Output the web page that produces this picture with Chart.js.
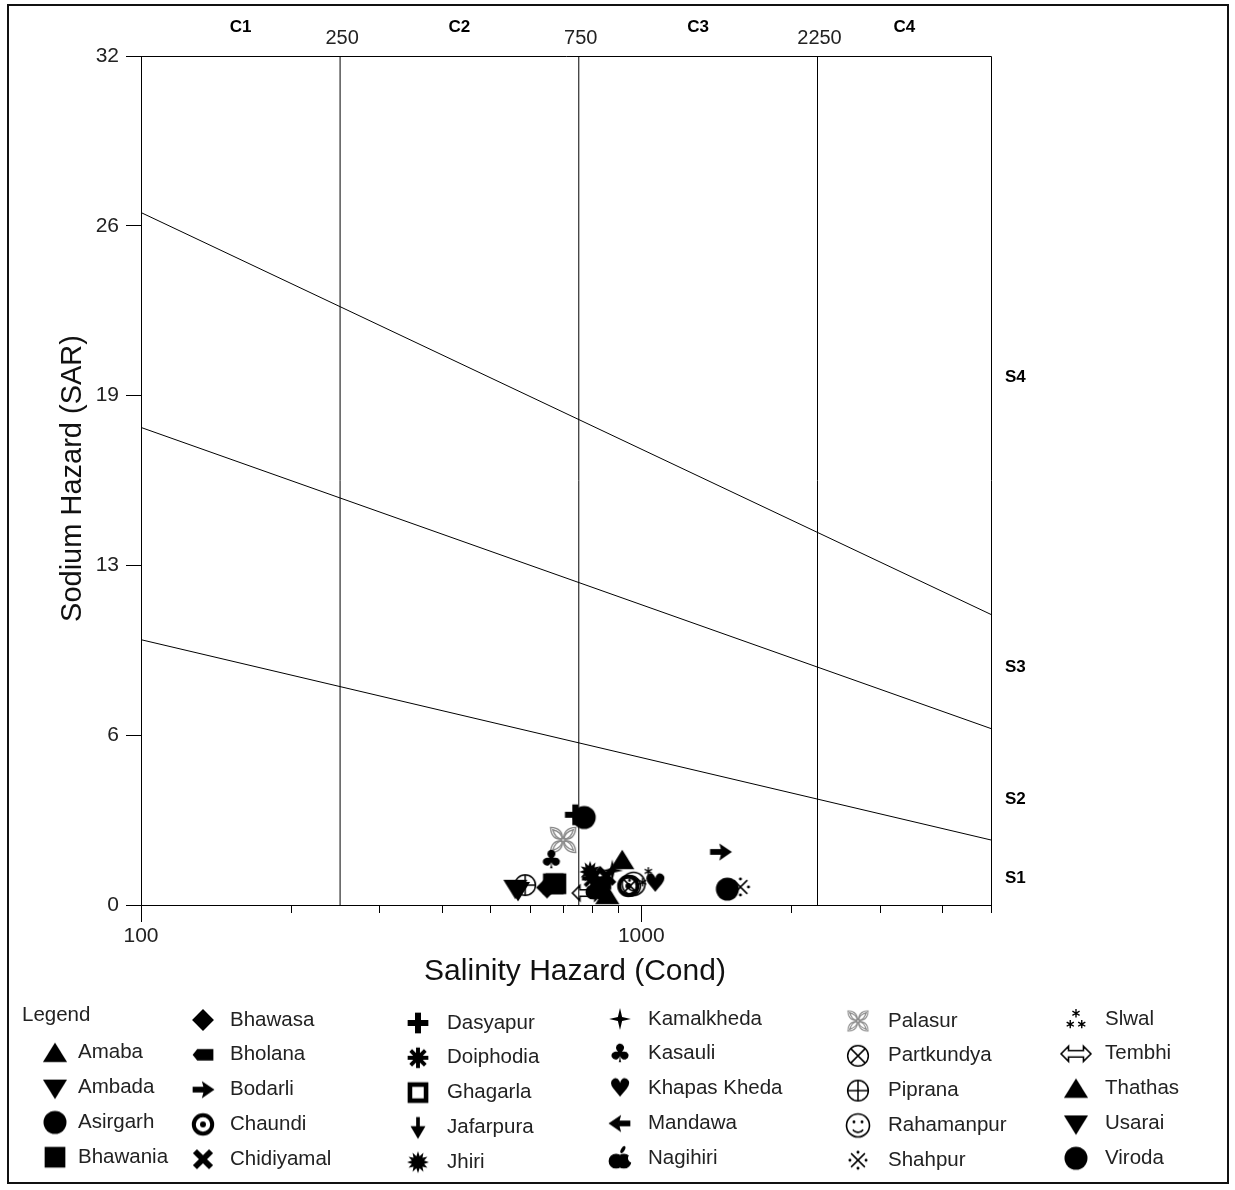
<!DOCTYPE html>
<html>
<head>
<meta charset="utf-8">
<script src="https://cdn.jsdelivr.net/npm/chart.js@4.4.1/dist/chart.umd.min.js"></script>
<style>
  html, body { margin: 0; padding: 0; background: #fff; }
  #wrap { width: 1235px; height: 1190px; position: relative; }
</style>
</head>
<body>
<div id="wrap"><canvas id="ussl"></canvas></div>
<script>
// ---- USSL salinity / sodium hazard diagram ----

const sites = ["Amaba", "Ambada", "Asirgarh", "Bhawania", "Bhawasa", "Bholana", "Bodarli", "Chaundi",
  "Chidiyamal", "Dasyapur", "Doiphodia", "Ghagarla", "Jafarpura", "Jhiri", "Kamalkheda", "Kasauli",
  "Khapas Kheda", "Mandawa", "Nagihiri", "Palasur", "Partkundya", "Piprana", "Rahamanpur", "Shahpur",
  "Slwal", "Tembhi", "Thathas", "Usarai", "Viroda"];

// conductivity (x) and SAR (y)
const ecValues = [916, 560, 769, 667, 648, 830, 1439, 942,
  851, 738, 798, 675, 830, 790, 875, 661,
  1066, 820, 815, 698, 950, 586, 965, 1578,
  1033, 780, 855, 567, 1486];
const sarValues = [1.7, 0.65, 3.3, 0.8, 0.66, 0.8, 2.0, 0.72,
  1.1, 3.4, 1.0, 0.8, 0.65, 1.25, 1.3, 1.7,
  0.8, 0.95, 0.6, 2.45, 0.72, 0.75, 0.8, 0.68,
  1.05, 0.45, 0.38, 0.57, 0.6];
const siteMarks = ["triUp", "triDown", "circle", "square", "diamond", "tag", "arrowRight", "ring",
  "xHeavy", "plusHeavy", "asterHeavy", "squareOpen", "arrowDown", "burst", "star4", "club",
  "heart", "arrowLeft", "apple", "petals", "oTimes", "oPlus", "smiley", "refMark",
  "asterism", "dblArrow", "triUp", "triDown", "circle"];

const ecTicks = [100, 200, 300, 400, 500, 600, 700, 800, 900, 1000, 2000, 3000, 4000, 5000];
const ecTickLabels = ["100", "", "", "", "", "", "", "", "", "1000", "", "", "", ""];
const sarTicks = [0, 6.4, 12.8, 19.2, 25.6, 32];
const sarTickLabels = ["0", "6", "13", "19", "26", "32"];

const classBounds = [250, 750, 2250];
const classBoundLabels = ["250", "750", "2250"];
const classNames = ["C1", "C2", "C3", "C4"];

const ecEnds = [100, 5000];
const sodiumLineLeft = [10, 18, 26.1];
const sodiumLineRight = [2.45, 6.65, 10.95];
const sodiumNames = ["S1", "S2", "S3", "S4"];
const sodiumLabelAt = [1.0, 4.0, 8.95, 19.9];

const FONT = '"Liberation Sans", Arial, sans-serif';

// ---- marker glyphs ----
function starPath(g, n, ro, ri) {
  g.beginPath();
  for (let i = 0; i < n * 2; i++) {
    const r = i % 2 ? ri : ro;
    const a = -Math.PI / 2 + i * Math.PI / n;
    g.lineTo(Math.cos(a) * r, Math.sin(a) * r);
  }
  g.closePath();
}

function spokes(g, cx, cy, n, r) {
  g.beginPath();
  for (let i = 0; i < n; i++) {
    const a = -Math.PI / 2 + i * Math.PI * 2 / n;
    g.moveTo(cx, cy);
    g.lineTo(cx + Math.cos(a) * r, cy + Math.sin(a) * r);
  }
  g.stroke();
}

function poly(g, pts) {
  g.beginPath();
  pts.forEach(p => g.lineTo(p[0], p[1]));
  g.closePath();
}

function petal(g, rot, len, w) {
  // pointed leaf from the centre outwards, double outline
  g.save();
  g.rotate(rot);
  [[len, w], [len * 0.8, w * 0.55]].forEach(([l, h]) => {
    g.beginPath();
    g.moveTo(1, 0);
    g.quadraticCurveTo(l * 0.5, -h * 1.6, l + 1, 0);
    g.quadraticCurveTo(l * 0.5, h * 1.6, 1, 0);
    g.stroke();
  });
  g.restore();
}

function makeIcon(kind) {
  const k = 1.15;
  const size = (kind === "petals" || kind === "dblArrow") ? 40 : 28;
  const c = document.createElement("canvas");
  c.width = c.height = size;
  const g = c.getContext("2d");
  g.translate(size / 2, size / 2);
  g.scale(k, k);
  g.fillStyle = "#000";
  g.strokeStyle = "#000";
  switch (kind) {
    case "triUp": poly(g, [[0, -9], [10.5, 8], [-10.5, 8]]); g.fill(); break;
    case "triDown": poly(g, [[0, 10], [10.5, -7], [-10.5, -7]]); g.fill(); break;
    case "circle": g.beginPath(); g.arc(0, 0, 10, 0, Math.PI * 2); g.fill(); break;
    case "square": g.fillRect(-9, -9, 18, 18); break;
    case "diamond": poly(g, [[0, -9.5], [9.5, 0], [0, 9.5], [-9.5, 0]]); g.fill(); break;
    case "tag": poly(g, [[-9, 0], [-5, -5], [9, -5], [9, 5], [-5, 5]]); g.fill(); break;
    case "arrowRight":
      g.fillRect(-9, -2.5, 10, 5);
      poly(g, [[-1, -7.5], [10, 0], [-1, 7.5], [1, 0]]); g.fill(); break;
    case "arrowLeft":
      g.fillRect(-1, -2.5, 10, 5);
      poly(g, [[1, -7.5], [-10, 0], [1, 7.5], [-1, 0]]); g.fill(); break;
    case "arrowDown":
      g.fillRect(-1.6, -9, 3.2, 10);
      poly(g, [[-6.5, -1], [6.5, -1], [0, 10]]); g.fill(); break;
    case "ring":
      g.lineWidth = 3.5; g.beginPath(); g.arc(0, 0, 8, 0, Math.PI * 2); g.stroke();
      g.beginPath(); g.arc(0, 0, 2.6, 0, Math.PI * 2); g.fill(); break;
    case "xHeavy":
      g.lineWidth = 5; g.beginPath();
      g.moveTo(-7, -7); g.lineTo(7, 7); g.moveTo(7, -7); g.lineTo(-7, 7); g.stroke(); break;
    case "plusHeavy": g.fillRect(-9, -2.6, 18, 5.2); g.fillRect(-2.6, -9, 5.2, 18); break;
    case "asterHeavy": g.lineWidth = 3.4; spokes(g, 0, 0, 8, 9); break;
    case "squareOpen": g.lineWidth = 4; g.strokeRect(-7, -7, 14, 14); break;
    case "burst": starPath(g, 12, 9.5, 5.5); g.fill(); break;
    case "star4": starPath(g, 4, 9.5, 2.6); g.fill(); break;
    case "club": case "heart":
      g.font = "22px 'DejaVu Sans'"; g.textAlign = "center"; g.textBaseline = "middle";
      g.fillText(kind === "club" ? "\u2663" : "\u2665", 0, 1); break;
    case "apple":
      g.beginPath(); g.arc(-3.4, 2.5, 6.5, 0, Math.PI * 2); g.arc(3.4, 2.5, 6.5, 0, Math.PI * 2); g.fill();
      g.beginPath(); g.ellipse(2.5, -7.5, 3.4, 1.6, -Math.PI / 3, 0, Math.PI * 2); g.fill();
      g.globalCompositeOperation = "destination-out";
      g.beginPath(); g.arc(10.5, 0, 3.6, 0, Math.PI * 2); g.fill();
      g.globalCompositeOperation = "source-over"; break;
    case "petals":
      g.strokeStyle = "#8a8a8a"; g.lineWidth = 1.2;
      [1, 3, 5, 7].forEach(q => petal(g, q * Math.PI / 4, 14.5, 4.6));
      break;
    case "oTimes": case "oPlus":
      g.lineWidth = 1.3; g.beginPath(); g.arc(0, 0, 9, 0, Math.PI * 2); g.stroke();
      g.beginPath();
      if (kind === "oTimes") { const d = 6.4; g.moveTo(-d, -d); g.lineTo(d, d); g.moveTo(d, -d); g.lineTo(-d, d); }
      else { g.moveTo(-9, 0); g.lineTo(9, 0); g.moveTo(0, -9); g.lineTo(0, 9); }
      g.stroke(); break;
    case "smiley":
      g.lineWidth = 1.4; g.beginPath(); g.arc(0, 0, 10, 0, Math.PI * 2); g.stroke();
      g.beginPath(); g.arc(-3.5, -3, 1.3, 0, Math.PI * 2); g.arc(3.5, -3, 1.3, 0, Math.PI * 2); g.fill();
      g.beginPath(); g.arc(0, 0.5, 5.5, 0.2 * Math.PI, 0.8 * Math.PI); g.stroke(); break;
    case "refMark":
      g.lineWidth = 1.3; g.beginPath();
      g.moveTo(-6, -6); g.lineTo(6, 6); g.moveTo(6, -6); g.lineTo(-6, 6); g.stroke();
      [[0, -7], [7, 0], [0, 7], [-7, 0]].forEach(p => { g.beginPath(); g.arc(p[0], p[1], 1.3, 0, Math.PI * 2); g.fill(); });
      break;
    case "asterism":
      g.lineWidth = 1.2;
      spokes(g, 0, -5, 6, 3.6); spokes(g, -5, 4.5, 6, 3.6); spokes(g, 5, 4.5, 6, 3.6); break;
    case "dblArrow":
      g.lineWidth = 1.4;
      poly(g, [[-13, 0], [-6.5, -6.5], [-6.5, -2.8], [6.5, -2.8], [6.5, -6.5], [13, 0],
        [6.5, 6.5], [6.5, 2.8], [-6.5, 2.8], [-6.5, 6.5]]);
      g.stroke(); break;
  }
  return c;
}

// ---- datasets ----
const siteSets = sites.map((name, i) => ({
  label: name,
  site: true,
  data: [{ x: ecValues[i], y: sarValues[i] }],
  pointStyle: makeIcon(siteMarks[i]),
  pointRadius: 11,
}));

const lineStyle = { showLine: true, pointRadius: 0, borderColor: "#000", borderWidth: 1, fill: false };

const boundSets = classBounds.map(v => ({
  ...lineStyle, label: "C" + v,
  data: [{ x: v, y: sarTicks[0] }, { x: v, y: sarTicks[sarTicks.length - 1] }],
}));

const sodiumSets = sodiumLineLeft.map((v, i) => ({
  ...lineStyle, label: "S" + i,
  data: [{ x: ecEnds[0], y: v }, { x: ecEnds[1], y: sodiumLineRight[i] }],
}));

// ---- extra text, frame and legend ----
const decorations = {
  id: "decorations",
  afterDraw(chart) {
    const { ctx, chartArea: a, scales: { x, y } } = chart;
    ctx.save();
    ctx.strokeStyle = "#000";
    ctx.lineWidth = 1;
    ctx.beginPath();
    ctx.moveTo(a.left, a.top + 0.5);
    ctx.lineTo(a.right + 0.5, a.top + 0.5);
    ctx.lineTo(a.right + 0.5, a.bottom);
    ctx.stroke();

    // longer ticks on the decades
    ctx.beginPath();
    ecTicks.forEach((v, i) => {
      if (!ecTickLabels[i]) return;
      const px = Math.round(x.getPixelForValue(v)) + 0.5;
      ctx.moveTo(px, a.bottom);
      ctx.lineTo(px, a.bottom + 17);
    });
    ctx.stroke();

    ctx.fillStyle = "#222";
    ctx.textAlign = "center";
    ctx.textBaseline = "middle";
    ctx.font = "20px " + FONT;
    classBounds.forEach((v, i) => ctx.fillText(classBoundLabels[i], x.getPixelForValue(v) + 2, 38));

    const edges = [x.min, ...classBounds, x.max];
    ctx.fillStyle = "#000";
    ctx.font = "bold 17px " + FONT;
    classNames.forEach((n, i) => ctx.fillText(n, x.getPixelForValue(Math.sqrt(edges[i] * edges[i + 1])), 27));

    ctx.textAlign = "left";
    sodiumNames.forEach((n, i) => ctx.fillText(n, a.right + 14, y.getPixelForValue(sodiumLabelAt[i])));

    // axis titles
    ctx.fillStyle = "#111";
    ctx.font = "30px " + FONT;
    ctx.textAlign = "center";
    ctx.fillText("Salinity Hazard (Cond)", 575, 972);
    ctx.font = "29px " + FONT;
    ctx.save();
    ctx.translate(73, (a.top + a.bottom) / 2 - 2);
    ctx.rotate(-Math.PI / 2);
    ctx.fillText("Sodium Hazard (SAR)", 0, 0);
    ctx.restore();

    // legend, five rows per column, header in the first slot
    const iconX = [55, 203, 418, 620, 858, 1076];
    const textX = [78, 230, 447, 648, 888, 1105];
    const rowTop = [1018, 1020, 1023, 1019, 1021, 1019];
    ctx.font = "20.5px " + FONT;
    ctx.fillStyle = "#222";
    ctx.textAlign = "left";
    ctx.fillText("Legend", 22, 1015);
    chart.data.datasets.filter(d => d.site).forEach((d, i) => {
      const slot = i + 1, col = Math.floor(slot / 5), row = slot % 5;
      const cy = rowTop[col] + row * 34.8;
      const img = d.pointStyle;
      const s = d.label === "Palasur" ? 0.8 : 1;
      ctx.drawImage(img, iconX[col] - img.width * s / 2, cy - img.height * s / 2, img.width * s, img.height * s);
      ctx.fillText(d.label, textX[col], cy);
    });

    // outer frame
    ctx.lineWidth = 2;
    ctx.strokeStyle = "#111";
    ctx.strokeRect(8, 5, 1220, 1178);
    ctx.restore();
  }
};

new Chart(document.getElementById("ussl"), {
  type: "scatter",
  data: { datasets: [...siteSets, ...boundSets, ...sodiumSets] },
  plugins: [decorations],
  options: {
    responsive: true,
    maintainAspectRatio: false,
    animation: false,
    events: [],
    layout: { padding: { left: 0, top: 56, right: 244, bottom: 0 } },
    plugins: { legend: { display: false }, tooltip: { enabled: false } },
    scales: {
      x: {
        type: "logarithmic",
        min: ecEnds[0],
        max: ecEnds[1],
        afterBuildTicks: s => { s.ticks = ecTicks.map(v => ({ value: v })); },
        afterFit: s => { s.height = 285; },
        grid: { drawOnChartArea: false, drawTicks: true, tickLength: 8, color: "#000" },
        border: { display: true, color: "#000", width: 1 },
        ticks: {
          autoSkip: false, maxRotation: 0, padding: 11, color: "#222",
          font: { family: FONT, size: 21 },
          callback: (v, i) => ecTickLabels[i]
        }
      },
      y: {
        min: sarTicks[0],
        max: sarTicks[sarTicks.length - 1],
        afterBuildTicks: s => { s.ticks = sarTicks.map(v => ({ value: v })); },
        afterFit: s => { s.width = 141; },
        grid: { drawOnChartArea: false, drawTicks: true, tickLength: 15, color: "#000" },
        border: { display: true, color: "#000", width: 1 },
        ticks: {
          padding: 7, color: "#222",
          font: { family: FONT, size: 21 },
          callback: (v, i) => sarTickLabels[i]
        }
      }
    }
  }
});
</script>
</body>
</html>
